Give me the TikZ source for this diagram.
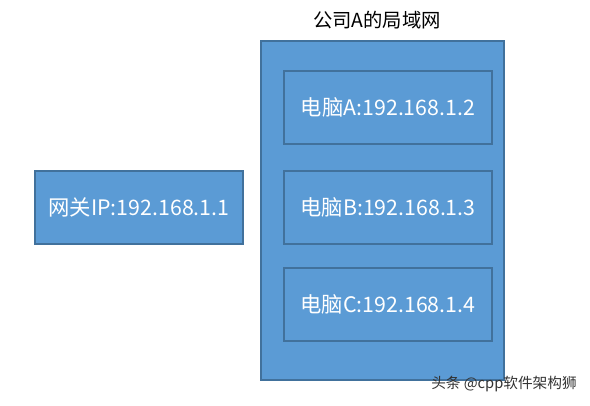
\documentclass[tikz,border=0pt]{standalone}
\usepackage{fontspec}
\setmainfont{Noto Sans CJK SC}
\definecolor{boxfill}{RGB}{91,155,213}
\definecolor{boxline}{RGB}{65,113,156}
\tikzset{
  hostbox/.style={draw=boxline, fill=boxfill, line width=1.5pt,
    minimum width=156pt, minimum height=54.75pt, inner sep=0pt,
    text=white, font=\fontsize{16}{19}\selectfont},
  lanbox/.style={draw=boxline, fill=boxfill, line width=1.5pt,
    minimum width=182.25pt, minimum height=254.25pt, inner sep=0pt}
}
\begin{document}
\begin{tikzpicture}[x=0.75pt,y=0.75pt,yscale=-1,xscale=1]
\useasboundingbox (0,0) rectangle (590,405);
% local network frame
\node [lanbox] (lan) at (382.5,210.5) {};
\node [font=\fontsize{14.5}{17}\selectfont] (lantitle) at (377,20) {公司A的局域网};
% hosts
\node [hostbox] (pcA) at (388,107.5) {电脑A:192.168.1.2};
\node [hostbox] (pcB) at (388,207.5) {电脑B:192.168.1.3};
\node [hostbox] (pcC) at (388,304.5) {电脑C:192.168.1.4};
% gateway
\node [hostbox] (gateway) at (139,207.5) {网关IP:192.168.1.1};
% watermark
\node [font=\fontsize{11}{13}\selectfont, text=black!80] (mark) at (504,384) {头条 @cpp软件架构狮};
\end{tikzpicture}
\end{document}
